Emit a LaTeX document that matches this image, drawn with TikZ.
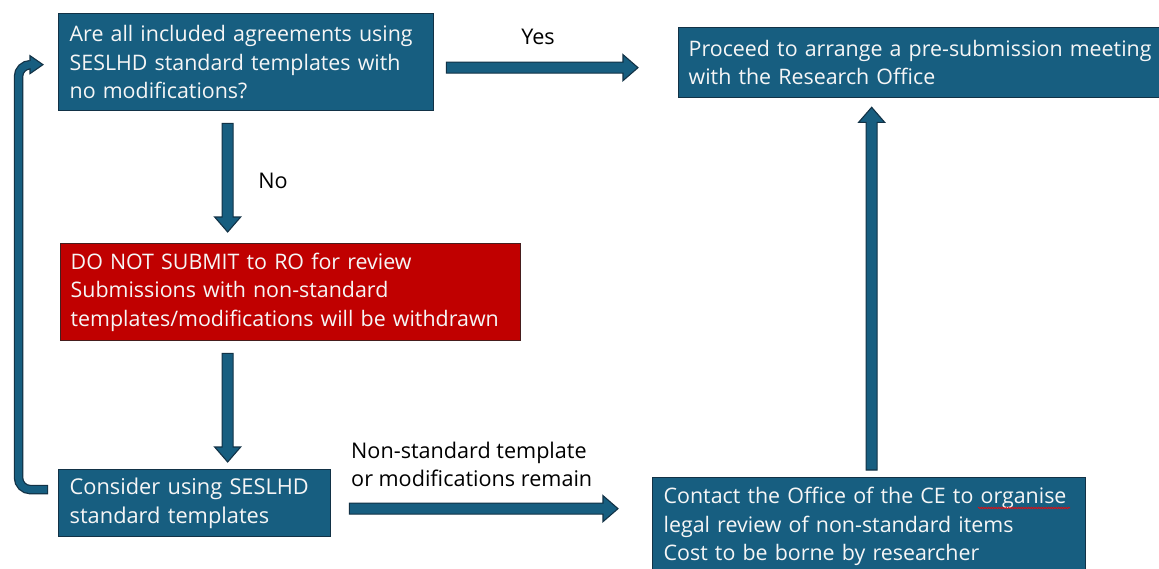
\documentclass[tikz,border=0pt]{standalone}
\usepackage{fontspec}
\setmainfont{Open Sans}
\usetikzlibrary{calc,decorations.pathmorphing}
\definecolor{boxblue}{RGB}{23,94,128}
\definecolor{boxedge}{RGB}{18,50,70}
\definecolor{boxred}{RGB}{192,0,0}
\definecolor{rededge}{RGB}{70,30,30}
\definecolor{txt}{RGB}{246,246,246}
\tikzset{
  box/.style={draw=boxedge, fill=boxblue, line width=1.3pt, anchor=north west,
    text=txt, align=left, inner xsep=11pt, inner ysep=0pt,
    font=\fontsize{21.4}{28.5}\selectfont},
  redbox/.style={box, draw=rededge, fill=boxred},
  lbl/.style={text=black, inner sep=0pt, font=\fontsize{21.6}{28}\selectfont},
  blockarrow/.style={fill=boxblue, draw=boxedge, line width=1.1pt, line join=miter,
    to path={
      ($(\tikztostart)!5.5pt!90:(\tikztotarget)$)
      -- ($($(\tikztotarget)!15pt!(\tikztostart)$)!5.5pt!90:(\tikztotarget)$)
      -- ($($(\tikztotarget)!15pt!(\tikztostart)$)!13pt!90:(\tikztotarget)$)
      -- (\tikztotarget)
      -- ($($(\tikztotarget)!15pt!(\tikztostart)$)!13pt!-90:(\tikztotarget)$)
      -- ($($(\tikztotarget)!15pt!(\tikztostart)$)!5.5pt!-90:(\tikztotarget)$)
      -- ($(\tikztostart)!5.5pt!-90:(\tikztotarget)$)
      -- cycle}},
  loopouter/.style={draw=boxedge, line width=9.5pt, rounded corners=12pt},
  loopinner/.style={draw=boxblue, line width=7pt, rounded corners=12pt},
}
\begin{document}
\begin{tikzpicture}[x=1pt,y=-1pt]
\useasboundingbox (0,0) rectangle (1159,568);
\clip (0,0) rectangle (1159,568);
\fill[white] (0,0) rectangle (1159,568);

\node[box, minimum width=375pt, minimum height=97pt, text width=353pt] (A) at (58,13)
  {\mbox{Are all included agreements using}\\\mbox{SESLHD standard templates with}\\\mbox{no modifications?}};
\node[box, minimum width=500pt, minimum height=70pt, text width=480pt, inner xsep=10pt] (B) at (678,27)
  {\mbox{Proceed to arrange a pre-submission meeting}\\\mbox{with the Research Office}};
\node[redbox, minimum width=460pt, minimum height=97pt, text width=440pt, inner xsep=10pt] (C) at (60,243)
  {\mbox{DO NOT SUBMIT to RO for review}\\\mbox{Submissions with non-standard}\\\mbox{templates/modifications will be withdrawn}};
\node[box, minimum width=272pt, minimum height=67pt, text width=250pt,
  font=\fontsize{21.8}{28.5}\selectfont] (D) at (58,469)
  {\mbox{Consider using SESLHD}\\\mbox{standard templates}};
\node[box, minimum width=433pt, minimum height=98pt, text width=411pt] (E) at (652,477)
  {\mbox{Contact the Office of the CE to organise}\\\mbox{legal review of non-standard items}\\\mbox{Cost to be borne by researcher}};

% spell-check underline
\draw[red, line width=0.6pt, decorate, decoration={snake, amplitude=0.8pt, segment length=2.5pt}]
  ($(E.north west)+(326,31)$) -- ($(E.north west)+(418,31)$);

% connector coordinates
\coordinate (y1) at ($(A.east)+(12,5.5)$);
\coordinate (y2) at ($(B.west)+(-40,5)$);
\coordinate (n1) at ($(A.south)+(-18.5,12)$);
\coordinate (n2) at ($(C.north)+(-63,-11)$);
\coordinate (c1) at ($(C.south)+(-63,12)$);
\coordinate (c2) at ($(D.north)+(33,-7)$);
\coordinate (d1) at ($(D.east)+(18,5.5)$);
\coordinate (d2) at ($(E.west)+(-34,-18)$);
\coordinate (e1) at ($(E.north)+(2.5,-7)$);
\coordinate (e2) at ($(e1 |- B.south)+(0,9)$);

\draw[blockarrow] (y1) to (y2);
\draw[blockarrow] (n1) to (n2);
\draw[blockarrow] (c1) to (c2);
\draw[blockarrow] (d1) to (d2);
\draw[blockarrow] (e1) to (e2);

% loop back arrow
\coordinate (l1) at ($(D.west)+(-10,-13.5)$);
\coordinate (l0) at ($(D.west)+(-11,-13.5)$);
\coordinate (lc) at ($(A.west)+(-39.5,2.5)$);
\coordinate (lh) at ($(A.west)+(-28,2.5)$);
\coordinate (lt) at ($(A.west)+(-15,2.5)$);
\draw[loopouter] (l1) -| (lc) -- (lh);
\filldraw[fill=boxblue, draw=boxedge, line width=1.1pt] ($(lh)+(0,-9)$) -- (lt) -- ($(lh)+(0,9)$) -- cycle;
\draw[loopinner] (l0) -| (lc) -- ($(lh)+(1.2,0)$);

% labels
\node[lbl] (yes) at (538,37) {Yes};
\node[lbl] (no) at (273,181) {No};
\node[lbl, anchor=west, align=left] (rem) at (351,464) {Non-standard template\\or modifications remain};
\end{tikzpicture}
\end{document}
